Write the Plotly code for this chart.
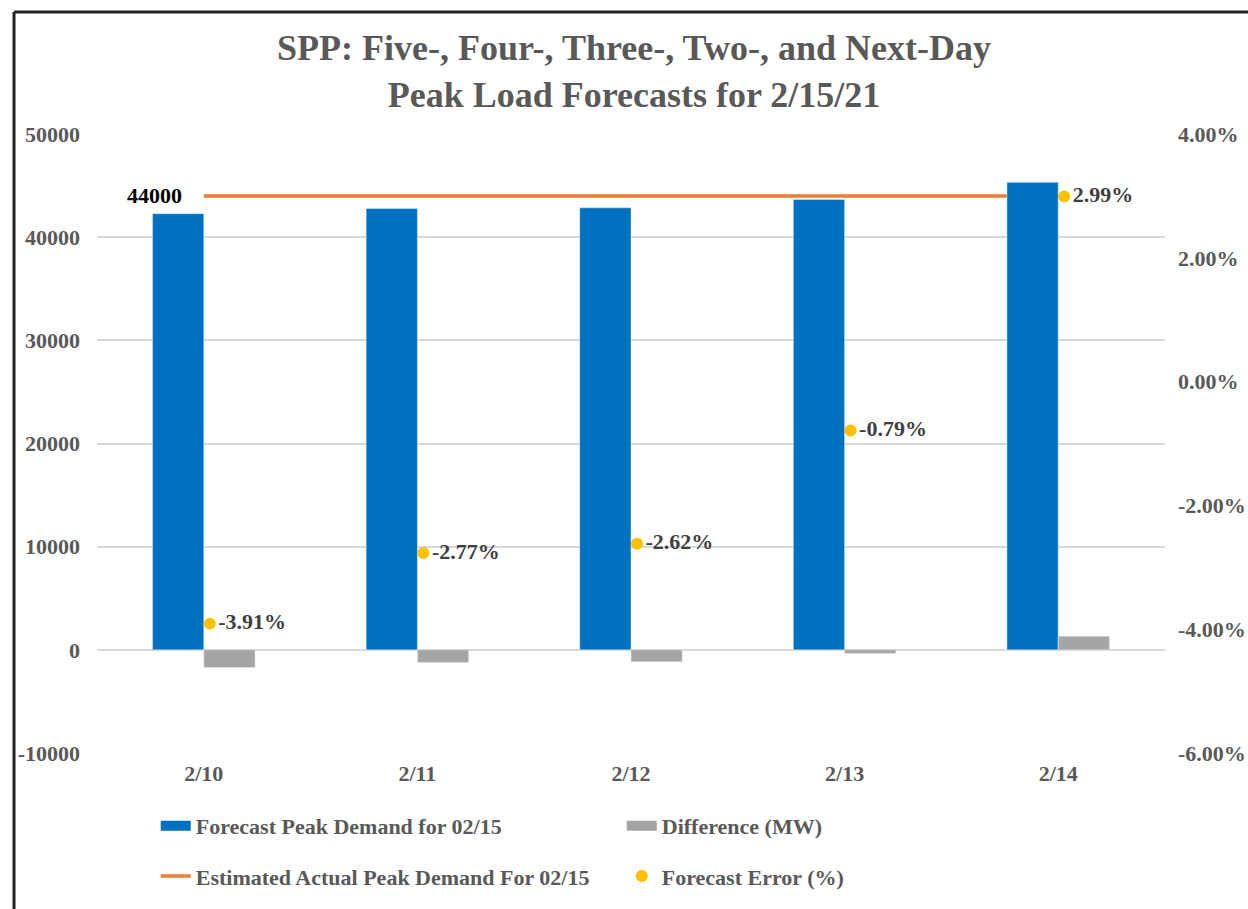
import plotly.graph_objects as go

categories = ["2/10", "2/11", "2/12", "2/13", "2/14"]
forecast_mw = [42280, 42781, 42847, 43652, 45316]
difference_mw = [-1720, -1219, -1153, -348, 1316]
actual_mw = [44000, 44000, 44000, 44000, 44000]
error_pct = [-0.0391, -0.0277, -0.0262, -0.0079, 0.0299]
error_labels = ["-3.91%", "-2.77%", "-2.62%", "-0.79%", "2.99%"]
left_ticks = [-10000, 0, 10000, 20000, 30000, 40000, 50000]
left_tick_labels = ["-10000", "0", "10000", "20000", "30000", "40000", "50000"]
right_ticks = [-0.06, -0.04, -0.02, 0.0, 0.02, 0.04]
right_tick_labels = ["-6.00%", "-4.00%", "-2.00%", "0.00%", "2.00%", "4.00%"]

FONT = "Liberation Serif"
TICK_COLOR = "#595959"
BLUE = "#0070C0"
GRAY = "#A5A5A5"
ORANGE = "#ED7D31"
YELLOW = "#FFC000"
FS = 22

fig = go.Figure()

fig.add_trace(go.Scatter(
    x=categories, y=actual_mw, mode="lines",
    name="Estimated Actual Peak Demand For 02/15",
    line=dict(color=ORANGE, width=3.5),
    xaxis="x", yaxis="y", legend="legend2",
))
fig.add_trace(go.Scatter(
    x=categories, y=error_pct, mode="markers+text",
    name="Forecast Error (%)",
    marker=dict(color=YELLOW, size=12),
    text=error_labels, textposition="middle right",
    textfont=dict(family=FONT, size=FS, color="#404040", weight="bold"),
    xaxis="x2", yaxis="y2", legend="legend2",
))
fig.add_trace(go.Bar(
    x=categories, y=forecast_mw, name="Forecast Peak Demand for 02/15",
    marker=dict(color=BLUE), xaxis="x", yaxis="y3", showlegend=False,
))
fig.add_trace(go.Bar(
    x=categories, y=difference_mw, name="Difference (MW)",
    marker=dict(color=GRAY), xaxis="x", yaxis="y3", showlegend=False,
))
# legend swatches for the bar series (wide rectangles like the original)
fig.add_trace(go.Scatter(
    x=[None], y=[None], mode="lines", name="Forecast Peak Demand for 02/15",
    line=dict(color=BLUE, width=10), legend="legend",
))
fig.add_trace(go.Scatter(
    x=[None], y=[None], mode="lines", name="Difference (MW)",
    line=dict(color=GRAY, width=10), legend="legend",
))

fig.add_annotation(
    x=categories[0], y=actual_mw[0], xref="x", yref="y",
    text=str(actual_mw[0]), showarrow=False, xanchor="right", yanchor="middle",
    xshift=-20, font=dict(family=FONT, size=FS, color="#000000", weight="bold"),
)

# chart frame
fig.add_shape(type="line", xref="paper", yref="paper",
              x0=-0.0777, x1=-0.0777, y0=-0.3, y1=1.197,
              line=dict(color="#222222", width=3))
fig.add_shape(type="line", xref="paper", yref="paper",
              x0=-0.0777, x1=1.2, y0=1.197, y1=1.197,
              line=dict(color="#222222", width=3))

legend_common = dict(
    orientation="h", font=dict(family=FONT, size=FS, color=TICK_COLOR, weight="bold"),
    entrywidth=421, entrywidthmode="pixels", xanchor="left", yanchor="middle",
    bgcolor="rgba(0,0,0,0)", traceorder="normal",
)

DOT_SHIFT = 0.028  # small rightward nudge of the error markers within each category

fig.update_layout(
    width=1248, height=909,
    paper_bgcolor="white", plot_bgcolor="white",
    margin=dict(l=97, r=83, t=134, b=156, autoexpand=False),
    font=dict(family=FONT, color=TICK_COLOR, weight="bold"),
    title=dict(
        text="SPP: Five-, Four-, Three-, Two-, and Next-Day<br>Peak Load Forecasts for 2/15/21",
        x=0.508, xref="container", xanchor="center",
        y=0.934, yref="container", yanchor="middle",
        font=dict(family=FONT, size=36, color=TICK_COLOR, weight="bold"),
    ),
    barmode="group", bargap=0.52, bargroupgap=0,
    xaxis=dict(
        type="category", categoryarray=categories, categoryorder="array",
        range=[-0.5, len(categories) - 0.5],
        showgrid=False, showline=False, ticks="",
        tickfont=dict(family=FONT, size=FS, color=TICK_COLOR, weight="bold"),
        ticklabelstandoff=5, automargin=False,
    ),
    xaxis2=dict(
        type="category", categoryarray=categories, categoryorder="array",
        range=[-0.5 - DOT_SHIFT, len(categories) - 0.5 - DOT_SHIFT],
        overlaying="x", visible=False, showgrid=False, automargin=False,
    ),
    yaxis=dict(
        range=[-10000, 50000], tickvals=left_ticks, ticktext=left_tick_labels,
        showgrid=True, gridcolor="#D9D9D9", gridwidth=1.5,
        zeroline=True, zerolinecolor="#D9D9D9", zerolinewidth=1.5,
        tickfont=dict(family=FONT, size=FS, color=TICK_COLOR, weight="bold"),
        ticklabelstandoff=16, automargin=False,
    ),
    yaxis2=dict(
        range=[-0.06, 0.04], tickvals=right_ticks, ticktext=right_tick_labels,
        overlaying="y", side="right", showgrid=False, zeroline=False,
        tickfont=dict(family=FONT, size=FS, color=TICK_COLOR, weight="bold"),
        ticklabelstandoff=12, automargin=False,
    ),
    yaxis3=dict(
        range=[-10000, 50000], overlaying="y", visible=False,
        showgrid=False, zeroline=False, automargin=False,
    ),
    legend=dict(x=0.055, y=-0.118, **legend_common),
    legend2=dict(x=0.055, y=-0.199, **legend_common),
    showlegend=True,
)

fig.write_html("out.html", config={"displayModeBar": False},
               post_script="document.body.style.margin='0';")
